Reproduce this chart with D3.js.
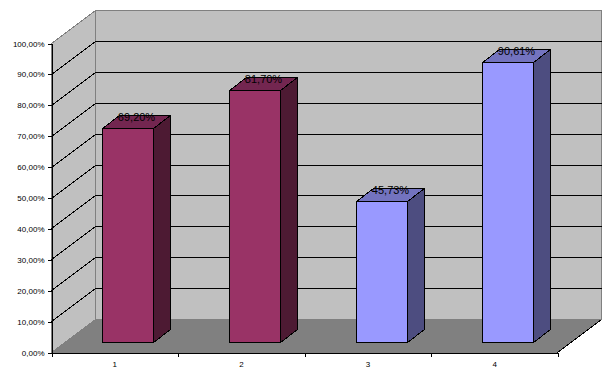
<!DOCTYPE html>
<meta charset="utf-8">
<title>3D column chart</title>
<style>
html, body {
  margin: 0;
  padding: 0;
  background: #fff;
}
svg { display: block; shape-rendering: crispEdges; }
text { font-family: "Liberation Sans", Arial, sans-serif; fill: #000; opacity: 0.999; }
</style>
<script src="https://d3js.org/d3.v7.min.js"></script>
<body>
<svg id="chart" width="612" height="381"></svg>
<script>
var categories = ['1', '2', '3', '4'];
var values = [69.20, 81.70, 45.73, 90.61];
var labels = ['69,20%', '81,70%', '45,73%', '90,61%'];
var yTicks = [0, 10, 20, 30, 40, 50, 60, 70, 80, 90, 100];
var fronts = ['#993366', '#993366', '#9999ff', '#9999ff'];
var tops = ['#732650', '#732650', '#7373bf', '#7373bf'];
var sides = ['#4d1a33', '#4d1a33', '#4d4d80', '#4d4d80'];

var svg = d3.select('#chart');

// front plane of the box, the back wall is the same thing shifted by (dx, dy)
// (plotTop, because a global called top is window.top and can't be assigned)
var plotLeft = 51.5, plotRight = 557.5, plotBottom = 352.5, plotTop = 43.5;
var dx = 44, dy = -33;

var y = d3.scaleLinear().domain([0, 100]).range([plotBottom, plotTop]);
var x = d3.scaleBand().domain(categories).range([plotLeft, plotRight + 0.5]).paddingInner(0.597).paddingOuter(0.2985);
var xEdges = d3.scaleLinear().domain([0, categories.length]).range([plotLeft, plotRight]);

// snap to pixel centres so the 1px lines stay sharp
function snap(v) { return Math.round(v - 0.5) + 0.5; }

function poly(pts, fill, stroke) {
  return svg.append('polygon')
    .attr('points', pts.map(function (p) { return p.join(','); }).join(' '))
    .attr('fill', fill)
    .attr('stroke', stroke || 'none');
}

// walls and floor
poly([[plotLeft, plotTop], [plotLeft + dx, plotTop + dy], [plotLeft + dx, plotBottom + dy], [plotLeft, plotBottom]], '#c0c0c0', '#808080');
poly([[plotLeft + dx, plotTop + dy], [plotRight + dx, plotTop + dy], [plotRight + dx, plotBottom + dy], [plotLeft + dx, plotBottom + dy]], '#c0c0c0', '#808080');

// gridlines, side wall then back wall
yTicks.slice(1, -1).forEach(function (t) {
  var gy0 = snap(y(t));
  svg.append('path')
    .attr('d', 'M' + plotLeft + ',' + gy0 + 'L' + (plotLeft + dx) + ',' + (gy0 + dy) + 'L' + (plotRight + dx) + ',' + (gy0 + dy))
    .attr('fill', 'none')
    .attr('stroke', '#000');
});

poly([[plotLeft, plotBottom], [plotLeft + dx, plotBottom + dy], [plotRight + dx, plotBottom + dy], [plotRight, plotBottom]], '#808080');
// right floor edge is dark
svg.append('line')
  .attr('x1', plotRight).attr('y1', plotBottom).attr('x2', plotRight + dx).attr('y2', plotBottom + dy)
  .attr('stroke', '#000');

// bars sit a little inside the floor depth
var inX = 13, inY = -10, barDx = 17, barDy = -13;
values.forEach(function (v, i) {
  var x0 = Math.round(x(categories[i]) + inX) + 0.5;
  var x1 = x0 + Math.round(x.bandwidth());
  var yt = snap(y(v) + inY);
  var yb = snap(y(0) + inY);
  poly([[x0, yt], [x0 + barDx, yt + barDy], [x1 + barDx, yt + barDy], [x1, yt]], tops[i], '#000');
  poly([[x1, yt], [x1 + barDx, yt + barDy], [x1 + barDx, yb + barDy], [x1, yb]], sides[i], '#000');
  poly([[x0, yt], [x1, yt], [x1, yb], [x0, yb]], fronts[i], '#000');
  svg.append('text')
    .attr('x', x0 + 34)
    .attr('y', yt - 8)
    .attr('text-anchor', 'middle')
    .attr('font-size', '11px')
    .text(labels[i]);
});

// axes
var yAxis = d3.axisLeft(y)
  .tickValues(yTicks)
  .tickSize(4)
  .tickPadding(3)
  .tickFormat(function (d) { return d.toFixed(2).replace('.', ',') + '%'; });
var gy = svg.append('g').attr('transform', 'translate(' + plotLeft + ',0)').call(yAxis);
gy.attr('font-size', null).attr('font-family', null);
gy.selectAll('text').attr('font-size', '8px');

var xAxis = d3.axisBottom(xEdges).ticks(categories.length).tickSize(4).tickFormat('');
svg.append('g').attr('transform', 'translate(0,' + plotBottom + ')').call(xAxis);

svg.selectAll('.cat').data(categories).enter().append('text')
  .attr('class', 'cat')
  .attr('x', function (d) { return x(d) + x.bandwidth() / 2; })
  .attr('y', 367)
  .attr('text-anchor', 'middle')
  .attr('font-size', '8px')
  .text(function (d) { return d; });
</script>
</body>
